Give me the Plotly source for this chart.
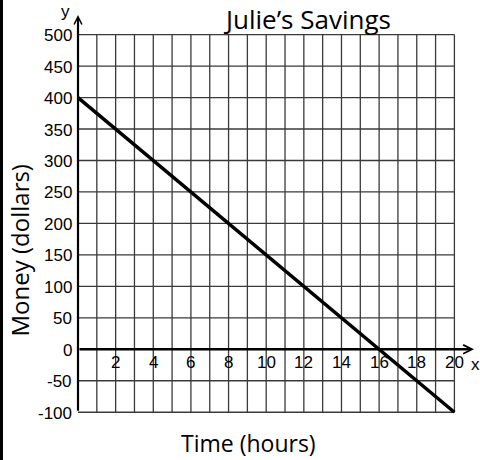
import plotly.graph_objects as go

# ---- data ----
time_hours = [0, 20]
money_dollars = [400, -100]
x_tick_values = [2, 4, 6, 8, 10, 12, 14, 16, 18, 20]
y_tick_values = [-100, -50, 0, 50, 100, 150, 200, 250, 300, 350, 400, 450, 500]
grid_x_values = list(range(1, 21))
grid_y_values = [-100, -50, 50, 100, 150, 200, 250, 300, 350, 400, 450, 500]
title_text = "Julie\u2019s Savings"
x_title = "Time (hours)"
y_title = "Money (dollars)"

# ---- pixel <-> data mapping (plot area = whole figure) ----
W, H = 480, 460
PX0, PXU = 78.0, 18.82      # pixel of x=0, pixels per hour
PY0, PYU = 349.3, 0.6294    # pixel of y=0, pixels per dollar
X_RANGE = [(0 - PX0) / PXU, (W - PX0) / PXU]
Y_RANGE = [(PY0 - H) / PYU, (PY0 - 0) / PYU]


def dx(px):
    return (px - PX0) / PXU


def dy(py):
    return (PY0 - py) / PYU


fig = go.Figure()

shapes = []
# grid
for gx in grid_x_values:
    shapes.append(dict(type="line", xref="x", yref="y", x0=gx, x1=gx,
                       y0=min(y_tick_values), y1=max(y_tick_values),
                       line=dict(color="#3a3a3a", width=1.3), layer="below"))
for gy in grid_y_values:
    shapes.append(dict(type="line", xref="x", yref="y", x0=0, x1=max(grid_x_values),
                       y0=gy, y1=gy,
                       line=dict(color="#3a3a3a", width=1.3), layer="below"))
# left black strip
shapes.append(dict(type="rect", xref="paper", yref="paper", x0=0, x1=3 / W, y0=0, y1=1,
                   fillcolor="black", line=dict(width=0)))

fig.add_trace(go.Scatter(x=time_hours, y=money_dollars, mode="lines",
                         line=dict(color="black", width=3.5), hoverinfo="skip",
                         showlegend=False))

annotations = []
# axes with arrows
annotations.append(dict(x=dx(474), y=0, ax=0, ay=0, xref="x", yref="y", axref="x", ayref="y",
                        text="", showarrow=True, arrowhead=5, arrowsize=0.7, arrowwidth=2.5,
                        arrowcolor="black", standoff=0, startstandoff=0))
annotations.append(dict(x=0, y=dy(15), ax=0, ay=min(y_tick_values), xref="x", yref="y",
                        axref="x", ayref="y",
                        text="", showarrow=True, arrowhead=5, arrowsize=0.7, arrowwidth=2.2,
                        arrowcolor="black", standoff=0, startstandoff=0))

tick_font = dict(family="Liberation Sans, Arial, sans-serif", size=17, color="black")
for v in y_tick_values:
    annotations.append(dict(x=dx(74), y=v, xref="x", yref="y", text=str(v), showarrow=False,
                            xanchor="right", yanchor="middle", font=tick_font, yshift=-1))
for v in x_tick_values:
    annotations.append(dict(x=v, y=dy(362), xref="x", yref="y", text=str(v), showarrow=False,
                            xanchor="center", yanchor="middle", font=tick_font))
annotations.append(dict(x=dx(475), y=dy(364), xref="x", yref="y", text="x", showarrow=False,
                        xanchor="center", yanchor="middle", font=tick_font))
annotations.append(dict(x=dx(65), y=dy(11), xref="x", yref="y", text="y", showarrow=False,
                        xanchor="center", yanchor="middle", font=tick_font))

title_font = dict(family="Open Sans, sans-serif", size=26, color="black")
annotations.append(dict(x=dx(306.5), y=dy(18.5), xref="x", yref="y", text=title_text,
                        showarrow=False, xanchor="center", yanchor="middle", font=title_font))
annotations.append(dict(x=dx(248.5), y=dy(443), xref="x", yref="y", text=x_title,
                        showarrow=False, xanchor="center", yanchor="middle",
                        font=dict(family="Open Sans, sans-serif", size=23, color="black")))
annotations.append(dict(x=dx(18.5), y=dy(251), xref="x", yref="y", text=y_title,
                        showarrow=False, xanchor="center", yanchor="middle", textangle=-90,
                        font=dict(family="Open Sans, sans-serif", size=24, color="black")))

fig.update_layout(
    width=W, height=H,
    margin=dict(l=0, r=0, t=0, b=0),
    paper_bgcolor="white", plot_bgcolor="white",
    xaxis=dict(range=X_RANGE, visible=False, fixedrange=True),
    yaxis=dict(range=Y_RANGE, visible=False, fixedrange=True),
    shapes=shapes, annotations=annotations,
    showlegend=False,
)

fig.write_html(
    "out.html",
    config={"displayModeBar": False},
    post_script="document.body.style.margin='0';document.body.style.padding='0';"
                "document.documentElement.style.overflow='hidden';",
)
